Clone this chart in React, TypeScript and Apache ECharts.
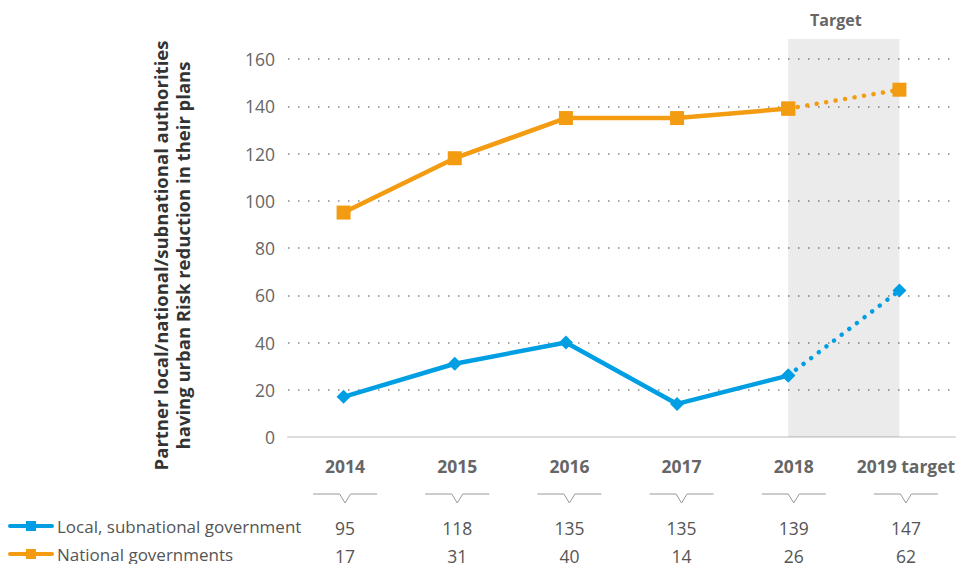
import React, { useEffect, useRef } from "react";
import * as echarts from "echarts";

const categories = ["2014", "2015", "2016", "2017", "2018", "2019 target"];
const nationalValues = [95, 118, 135, 135, 139, 147];
const localValues = [17, 31, 40, 14, 26, 62];
const tableRow1 = ["95", "118", "135", "135", "139", "147"];
const tableRow2 = ["17", "31", "40", "14", "26", "62"];
const yTicks = [0, 20, 40, 60, 80, 100, 120, 140, 160];

const ORANGE = "#F39C12";
const BLUE = "#009FE3";
const FONT = "'Open Sans', 'Noto Sans', sans-serif";
const LOCAL = "Local, subnational government";
const NATIONAL = "National governments";

const lastActual = 4;

function solidPart(vals: number[], sym?: string) {
  return vals.map((v, i) =>
    i <= lastActual ? (sym ? { value: v, symbol: sym } : v) : null
  );
}
function dottedPart(vals: number[], sym?: string) {
  return vals.map((v, i) =>
    i >= lastActual ? (sym ? { value: v, symbol: sym } : v) : null
  );
}

export default function App() {
  const ref = useRef<HTMLDivElement>(null);
  useEffect(() => {
    if (!ref.current) return;
    const chart = echarts.init(ref.current, undefined, { renderer: "svg" });
    const tableAxis = (data: string[], offset: number, extra: any = {}) => ({
      type: "category",
      gridIndex: 1,
      data,
      position: "bottom",
      offset,
      boundaryGap: true,
      axisLine: { show: false },
      axisTick: { show: false },
      axisLabel: {
        color: "#555",
        fontSize: 17.5,
        fontFamily: FONT,
        margin: 20,
        interval: 0,
        ...extra,
      },
    });
    chart.setOption({
      animation: false,
      textStyle: { fontFamily: FONT },
      grid: [
        { left: 288, right: 3, top: 59, bottom: 127, containLabel: false, outerBoundsMode: "none" },
        { left: 289, width: 673, top: 59, bottom: 127, containLabel: false, outerBoundsMode: "none" },
      ],
      legend: {
        orient: "vertical",
        left: 8,
        top: 516,
        padding: 0,
        itemWidth: 42,
        itemHeight: 12.5,
        itemGap: 8,
        data: [LOCAL, NATIONAL],
        lineStyle: { width: 4, cap: "round" },
        textStyle: { color: "#555", fontSize: 17, fontFamily: FONT, lineHeight: 20 },
      },
      xAxis: [
        {
          type: "category",
          gridIndex: 0,
          data: categories,
          boundaryGap: true,
          axisLine: { show: true, lineStyle: { color: "#dddddd", width: 2 } },
          axisTick: { show: false },
          axisLabel: { show: false },
        },
        tableAxis(categories, 0, { color: "#666", fontWeight: "bold" }),
        tableAxis(tableRow1, 62),
        tableAxis(tableRow2, 90),
      ],
      yAxis: [
        {
          type: "value",
          gridIndex: 0,
          min: 0,
          max: 160,
          interval: 20,
          name: "Partner local/national/subnational authorities\nhaving urban Risk reduction in their plans",
          nameLocation: "middle",
          nameGap: 95,
          nameTextStyle: {
            color: "#333",
            fontSize: 18.5,
            fontWeight: "bold",
            fontFamily: FONT,
            lineHeight: 22,
            padding: [0, 15, 0, 0],
          },
          axisLine: { show: false },
          axisTick: { show: false },
          axisLabel: {
            color: "#666",
            fontSize: 17.5,
            fontFamily: FONT,
            margin: 13,
            customValues: yTicks,
          },
          splitLine: {
            show: true,
            lineStyle: { color: "#888", width: 1.5, type: [1.5, 8.5] },
          },
        },
        {
          type: "value",
          gridIndex: 1,
          min: 0,
          max: 1,
          show: false,
        },
      ],
      series: [
        {
          name: LOCAL,
          type: "line",
          data: solidPart(localValues, "diamond"),
          symbol: "rect",
          symbolSize: 14,
          itemStyle: { color: BLUE },
          lineStyle: { color: BLUE, width: 4.5 },
          z: 3,
        },
        {
          name: LOCAL,
          type: "line",
          data: dottedPart(localValues, "diamond"),
          symbol: "rect",
          symbolSize: 14,
          itemStyle: { color: BLUE },
          lineStyle: { color: BLUE, width: 4.5, type: [0.1, 9.5], cap: "round" },
          z: 3,
        },
        {
          name: NATIONAL,
          type: "line",
          data: solidPart(nationalValues),
          symbol: "rect",
          symbolSize: 14,
          itemStyle: { color: ORANGE },
          lineStyle: { color: ORANGE, width: 4.5 },
          z: 3,
        },
        {
          name: NATIONAL,
          type: "line",
          data: dottedPart(nationalValues),
          symbol: "rect",
          symbolSize: 14,
          itemStyle: { color: ORANGE },
          lineStyle: { color: ORANGE, width: 4.5, type: [0.1, 9.5], cap: "round" },
          z: 3,
          markArea: {
            silent: true,
            itemStyle: { color: "rgba(0,0,0,0.08)" },
            label: {
              show: true,
              position: "top",
              distance: 11,
              color: "#666",
              fontSize: 16,
              fontWeight: "bold",
              fontFamily: FONT,
              offset: [-8, 0],
            },
            data: [
              [
                { name: "Target", xAxis: categories[lastActual], y: 39 },
                { xAxis: categories[categories.length - 1], yAxis: 0 },
              ],
            ],
          },
        },
      ],
    });

    const y0 = chart.convertToPixel({ yAxisIndex: 0 }, 0) as number;
    const cy = y0 + 57;
    const chevrons = categories.map((c) => {
      const x = chart.convertToPixel({ xAxisIndex: 1 }, c) as number;
      return {
        type: "polyline",
        silent: true,
        shape: {
          points: [
            [x - 32, cy],
            [x - 5.5, cy],
            [x, cy + 9],
            [x + 5.5, cy],
            [x + 32, cy],
          ],
        },
        style: { stroke: "#999", lineWidth: 1, fill: "none" },
      };
    });
    chart.setOption({ graphic: chevrons });

    return () => chart.dispose();
  }, []);
  return <div ref={ref} style={{ width: 958, height: 564, position: "absolute", left: 0, top: 0 }} />;
}
